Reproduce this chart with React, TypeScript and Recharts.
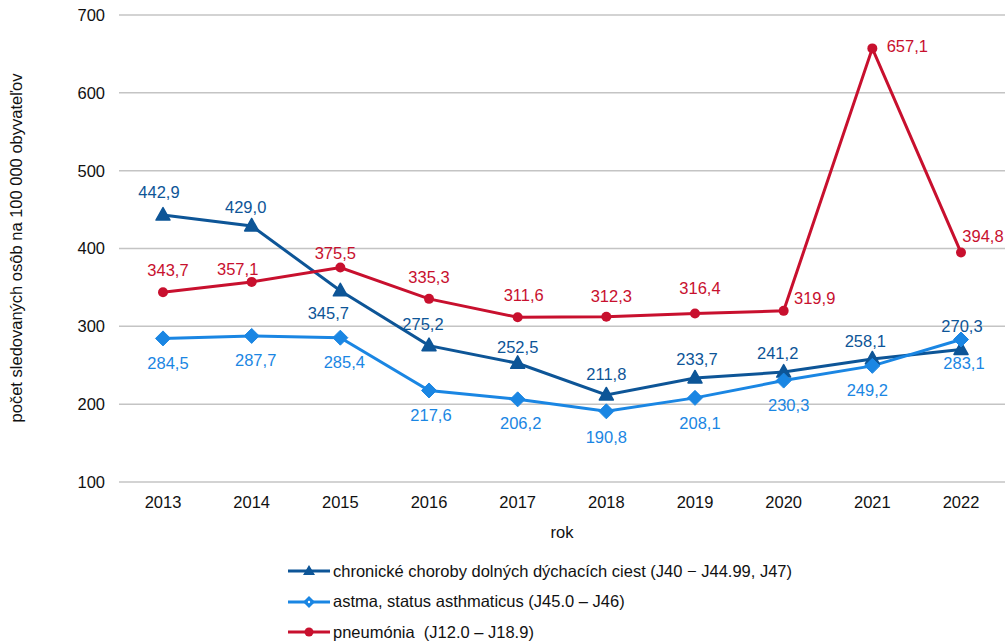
import React from 'react';
import { LineChart, Line, XAxis, YAxis, CartesianGrid, LabelList, Legend, Label } from 'recharts';

const years = ['2013', '2014', '2015', '2016', '2017', '2018', '2019', '2020', '2021', '2022'];
const chronic = [442.9, 429.0, 345.7, 275.2, 252.5, 211.8, 233.7, 241.2, 258.1, 270.3];
const astma = [284.5, 287.7, 285.4, 217.6, 206.2, 190.8, 208.1, 230.3, 249.2, 283.1];
const pneumonia = [343.7, 357.1, 375.5, 335.3, 311.6, 312.3, 316.4, 319.9, 657.1, 394.8];
const yTicks = [100, 200, 300, 400, 500, 600, 700];

const seriesNames = {
  chronic: 'chronické choroby dolných dýchacích ciest (J40 − J44.99, J47)',
  astma: 'astma, status asthmaticus (J45.0 – J46)',
  pneumonia: 'pneumónia  (J12.0 – J18.9)',
};

const COLORS = { chronic: '#0d5597', astma: '#1a86e3', pneumonia: '#c8102e' };
const FONT = '"Liberation Sans", Arial, sans-serif';
const FS = 16.5;

// label offsets (dx, dy) relative to each point
const chronicOffsets = [[-4, -23], [-6, -19], [-12, 22], [-6, -21], [0, -16], [0, -21], [2, -19], [-6, -19], [-7, -18], [1, -23]];
const astmaOffsets = [[5, 25], [4, 24], [4, 25], [2, 25], [3, 24], [0, 26], [5, 25], [5, 25], [-5, 24], [3, 24]];
const pneumoniaOffsets = [[5, -22], [-14, -13], [-5, -14], [0, -22], [6, -22], [5, -21], [5, -25], [31, -13], [35, -2], [22, -16]];

const data = years.map((y, i) => ({ year: y, chronic: chronic[i], astma: astma[i], pneumonia: pneumonia[i] }));

const fmt = (v: number) => v.toFixed(1).replace('.', ',');

const makeLabel = (offsets: number[][], color: string) => (props: any) => {
  const { x, y, value, index } = props;
  const [dx, dy] = offsets[index] || [0, -20];
  return (
    <text x={x + dx} y={y + dy} dy="0.35em" textAnchor="middle" fill={color} fontSize={FS} fontFamily={FONT}>
      {fmt(value)}
    </text>
  );
};

const Triangle = (props: any) => {
  const { cx, cy, fill } = props;
  if (cx == null || cy == null) return null;
  return <polygon points={`${cx},${cy - 7.5} ${cx - 7},${cy + 5} ${cx + 7},${cy + 5}`} fill={fill} stroke={fill} strokeWidth={1.5} strokeLinejoin="round" />;
};
const Diamond = (props: any) => {
  const { cx, cy, fill } = props;
  if (cx == null || cy == null) return null;
  return <polygon points={`${cx},${cy - 7.5} ${cx + 7.5},${cy} ${cx},${cy + 7.5} ${cx - 7.5},${cy}`} fill={fill} stroke={fill} strokeWidth={1} strokeLinejoin="round" />;
};
const Dot = (props: any) => {
  const { cx, cy, fill } = props;
  if (cx == null || cy == null) return null;
  return <circle cx={cx} cy={cy} r={5} fill={fill} />;
};

const legendItems = [
  { key: 'chronic', shape: 'triangle' },
  { key: 'astma', shape: 'diamond' },
  { key: 'pneumonia', shape: 'circle' },
];

const LegendContent = () => (
  <div style={{ fontFamily: FONT, fontSize: FS, color: '#111' }}>
    {legendItems.map((it) => {
      const c = (COLORS as any)[it.key];
      return (
        <div key={it.key} style={{ display: 'flex', alignItems: 'center', height: 30.5 }}>
          <svg width={44} height={16} style={{ marginRight: 2 }}>
            <line x1={1} y1={8} x2={43} y2={8} stroke={c} strokeWidth={3} />
            {it.shape === 'triangle' && <polygon points="22,2 16,12 28,12" fill={c} />}
            {it.shape === 'diamond' && (
              <g>
                <polygon points="22,2 28,8 22,14 16,8" fill={c} />
                <circle cx={22} cy={8} r={1.2} fill="#fff" />
              </g>
            )}
            {it.shape === 'circle' && <circle cx={22} cy={8} r={4.5} fill={c} />}
          </svg>
          <span style={{ whiteSpace: 'pre' }}>{(seriesNames as any)[it.key]}</span>
        </div>
      );
    })}
  </div>
);

const YLabel = () => (
  <text
    x={16}
    y={248}
    transform="rotate(-90, 16, 248)"
    textAnchor="middle"
    dy="0.35em"
    fill="#111"
    fontSize={FS}
    fontFamily={FONT}
  >
    počet sledovaných osôb na 100 000 obyvateľov
  </text>
);

export default function App() {
  return (
    <div style={{ position: 'absolute', left: 0, top: 0, width: 1006, height: 643, background: '#fff' }}>
      <LineChart width={1006} height={643} data={data} margin={{ top: 15, right: 1, bottom: 101, left: 0 }}>
        <CartesianGrid horizontal vertical={false} stroke="#c4c4c4" strokeWidth={1.5} />
        <XAxis
          dataKey="year"
          padding={{ left: 44, right: 44 }}
          axisLine={false}
          tickLine={false}
          tickSize={0}
          tickMargin={14}
          height={60}
          tick={{ fill: '#111', fontSize: FS, fontFamily: FONT }}
        >
          <Label value="rok" position="insideBottom" offset={4} fill="#111" fontSize={FS} fontFamily={FONT} />
        </XAxis>
        <YAxis
          domain={[100, 700]}
          ticks={yTicks}
          width={119}
          axisLine={false}
          tickLine={false}
          tickSize={0}
          tickMargin={14}
          tick={{ fill: '#111', fontSize: FS, fontFamily: FONT }}
          label={<YLabel />}
        />
        <Legend
          layout="vertical"
          align="center"
          verticalAlign="middle"
          content={<LegendContent />}
          wrapperStyle={{ top: 556, left: 287, width: 'auto', height: 'auto' }}
        />
        <Line
          type="linear"
          dataKey="chronic"
          name={seriesNames.chronic}
          stroke={COLORS.chronic}
          strokeWidth={3}
          dot={<Triangle fill={COLORS.chronic} />}
          activeDot={false}
          isAnimationActive={false}
        >
          <LabelList dataKey="chronic" content={makeLabel(chronicOffsets, COLORS.chronic)} />
        </Line>
        <Line
          type="linear"
          dataKey="astma"
          name={seriesNames.astma}
          stroke={COLORS.astma}
          strokeWidth={3}
          dot={<Diamond fill={COLORS.astma} />}
          activeDot={false}
          isAnimationActive={false}
        >
          <LabelList dataKey="astma" content={makeLabel(astmaOffsets, COLORS.astma)} />
        </Line>
        <Line
          type="linear"
          dataKey="pneumonia"
          name={seriesNames.pneumonia}
          stroke={COLORS.pneumonia}
          strokeWidth={3}
          dot={<Dot fill={COLORS.pneumonia} />}
          activeDot={false}
          isAnimationActive={false}
        >
          <LabelList dataKey="pneumonia" content={makeLabel(pneumoniaOffsets, COLORS.pneumonia)} />
        </Line>
      </LineChart>
    </div>
  );
}
